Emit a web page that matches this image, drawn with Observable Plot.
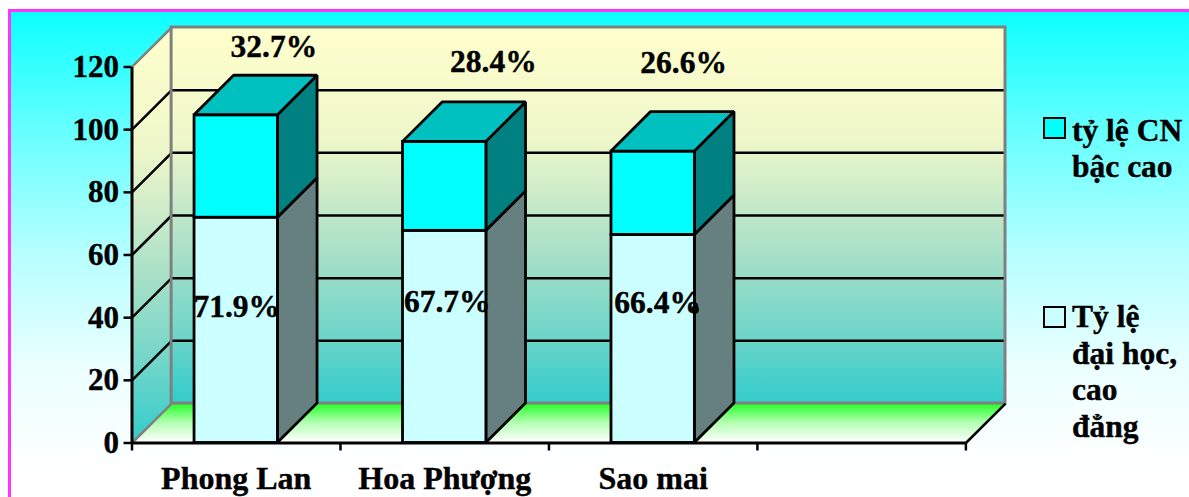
<!DOCTYPE html>
<html>
<head>
<meta charset="utf-8">
<script src="https://cdn.jsdelivr.net/npm/d3@7"></script>
<script src="https://cdn.jsdelivr.net/npm/@observablehq/plot@0.6"></script>
<style>
  html, body { margin: 0; padding: 0; width: 1189px; height: 497px; overflow: hidden; background: #fff; }
  #frame {
    position: absolute; left: 8px; top: 9px; width: 1181px; height: 488px;
    box-sizing: border-box; border-left: 3px solid #ff33ff; border-top: 3px solid #ff33ff;
    background: linear-gradient(180deg, #0cffff 0px, #66ffff 118px, #b4ffff 238px, #ecffff 358px, #ffffff 460px);
  }
  #chart { position: absolute; left: 0; top: 0; }
  #chart svg { display: block; }
  #chart text { stroke: #000; stroke-width: 0.4px; }
  .legend { position: absolute; font: bold 31.5px "Liberation Serif", serif; -webkit-text-stroke: 0.4px #000; color: #000; white-space: nowrap; }
  .swatch { position: absolute; width: 19px; height: 18px; border: 2.5px solid #000; }
</style>
</head>
<body>
<div id="frame"></div>
<div id="chart"></div>
<div class="swatch" style="left:1043px; top:117px; background:#00ffff"></div>
<div class="legend" style="left:1072px; top:113px; line-height:36px">tỷ lệ CN<br>bậc cao</div>
<div class="swatch" style="left:1043px; top:306px; background:#ccffff"></div>
<div class="legend" style="left:1072px; top:299px; line-height:36.5px">Tỷ lệ<br>đại học,<br>cao<br>đẳng</div>
<script>
// Share of staff by qualification at each hospital
const categories = ["Phong Lan", "Hoa Phượng", "Sao mai"];
const daiHoc = [71.9, 67.7, 66.4];
const cnBacCao = [32.7, 28.4, 26.6];
const yTicks = [0, 20, 40, 60, 80, 100, 120];
const slotTicks = [0, 1, 2, 3, 4];

// Oblique projection: how far the back of the box is shifted, in scale units
const depthX = 0.19;
const depthY = 12.6;
const slots = 4;
const yMax = 120;
const halfBar = 0.2;

const serif = '"Liberation Serif", serif';
const labelStyle = {fontFamily: serif, fontWeight: "bold", fontSize: 31.5, fill: "#000"};
const edge = {stroke: "#000", strokeWidth: 2.8, strokeLinejoin: "miter"};

const center = i => i + 0.5;
const bars = categories.map((name, i) => ({
  name,
  x1: center(i) - halfBar,
  x2: center(i) + halfBar,
  low: daiHoc[i],
  high: daiHoc[i] + cnBacCao[i]
}));

// A side face is a parallelogram running from a bar's right edge to its back edge
const sideFaces = (from, to) => bars.flatMap(b => [
  {id: b.name, x: b.x2, y1: from(b), y2: to(b)},
  {id: b.name, x: b.x2 + depthX, y1: from(b) + depthY, y2: to(b) + depthY}
]);
const topFaces = bars.flatMap(b => [
  {id: b.name, y: b.high, x1: b.x1, x2: b.x2},
  {id: b.name, y: b.high + depthY, x1: b.x1 + depthX, x2: b.x2 + depthX}
]);
const leftWall = [
  {x: 0, y1: 0, y2: yMax},
  {x: depthX, y1: depthY, y2: yMax + depthY}
];
const floor = [
  {y: 0, x1: 0, x2: slots},
  {y: depthY, x1: depthX, x2: slots + depthX}
];
const gridValues = yTicks.filter(v => v > 0 && v < yMax);

const gradients = () => d3.create("svg:defs").html(`
  <linearGradient id="wall" x1="0" y1="0" x2="0" y2="1">
    <stop offset="0" stop-color="#ffffcc"/><stop offset="0.3" stop-color="#eef7ca"/>
    <stop offset="0.6" stop-color="#a8e0c8"/><stop offset="0.8" stop-color="#74d6c9"/>
    <stop offset="1" stop-color="#33cccc"/>
  </linearGradient>
  <linearGradient id="floorFill" x1="0" y1="0" x2="0" y2="1">
    <stop offset="0" stop-color="#22ff22"/><stop offset="0.5" stop-color="#b4ffb4"/>
    <stop offset="1" stop-color="#ffffff"/>
  </linearGradient>`).node();

const chart = Plot.plot({
  width: 1189,
  height: 497,
  marginLeft: 131.5,
  marginRight: 184,
  marginTop: 27,
  marginBottom: 54.5,
  style: {background: "transparent", overflow: "visible"},
  x: {type: "linear", domain: [0, slots + depthX], axis: null},
  y: {type: "linear", domain: [0, yMax + depthY], axis: null},
  marks: [
    gradients,
    // box walls and floor
    Plot.rect([0], {x1: depthX, x2: slots + depthX, y1: depthY, y2: yMax + depthY, fill: "url(#wall)"}),
    Plot.areaY(leftWall, {x: "x", y1: "y1", y2: "y2", fill: "url(#wall)"}),
    Plot.areaX(floor, {y: "y", x1: "x1", x2: "x2", fill: "url(#floorFill)"}),
    // gridlines on both walls
    Plot.link(gridValues, {x1: 0, x2: depthX, y1: v => v, y2: v => v + depthY, stroke: "#000", strokeWidth: 2.5}),
    Plot.link(gridValues, {x1: depthX, x2: slots + depthX, y1: v => v + depthY, y2: v => v + depthY, stroke: "#000", strokeWidth: 2.5}),
    // grey wall outlines
    Plot.rect([0], {x1: depthX, x2: slots + depthX, y1: depthY, y2: yMax + depthY, stroke: "#808080", strokeWidth: 3}),
    Plot.link([yMax, 0], {x1: 0, x2: depthX, y1: v => v, y2: v => v + depthY, stroke: "#808080", strokeWidth: 2.5}),
    Plot.link([0], {x1: slots, x2: slots + depthX, y1: 0, y2: depthY, stroke: "#000", strokeWidth: 2.5}),
    // lower segment of each bar
    Plot.areaY(sideFaces(() => 0, b => b.low), {x: "x", y1: "y1", y2: "y2", z: "id", fill: "#668080", ...edge}),
    Plot.rect(bars, {x1: "x1", x2: "x2", y1: 0, y2: "low", fill: "#ccffff", ...edge}),
    // upper segment of each bar
    Plot.areaY(sideFaces(b => b.low, b => b.high), {x: "x", y1: "y1", y2: "y2", z: "id", fill: "#008080", ...edge}),
    Plot.rect(bars, {x1: "x1", x2: "x2", y1: "low", y2: "high", fill: "#00ffff", ...edge}),
    Plot.areaX(topFaces, {y: "y", x1: "x1", x2: "x2", z: "id", fill: "#00c0c0", ...edge}),
    // value labels, each nudged to its own spot above or on its bar
    ...[[37.7, -68], [48.7, -80], [30.5, -89]].map(([dx, dy], i) =>
      Plot.text([bars[i]], {x: d => center(i), y: "high", text: () => `${cnBacCao[i]}%`, dx, dy, ...labelStyle})),
    ...[[0.5, 89], [2.5, 71], [4.5, 68]].map(([dx, dy], i) =>
      Plot.text([bars[i]], {x: d => center(i), y: "low", text: () => `${daiHoc[i]}%`, dx, dy, ...labelStyle})),
    Plot.dot([bars[2]], {x: "x2", y: () => 42.5, r: 4, fill: "#000"}),
    // front axis lines, ticks and labels
    Plot.link([0], {x1: 0, x2: slots, y1: 0, y2: 0, stroke: "#000", strokeWidth: 3}),
    Plot.link([0], {x1: 0, x2: 0, y1: 0, y2: yMax, stroke: "#000", strokeWidth: 3}),
    Plot.axisY({
      ticks: yTicks, tickSize: 8, tickPadding: 5, label: null, stroke: "#000", strokeWidth: 2.5,
      fontSize: 31, fontFamily: serif, fontWeight: "bold", fill: "#000"
    }),
    Plot.axisX({ticks: slotTicks, tickSize: 8, tickFormat: () => "", label: null, stroke: "#000", strokeWidth: 2.5}),
    Plot.axisX({
      ticks: categories.map((_, i) => center(i)), tickSize: 0, tickPadding: 23,
      tickFormat: v => categories[v - 0.5], label: null,
      fontSize: 32, fontFamily: serif, fontWeight: "bold", fill: "#000"
    })
  ]
});
document.getElementById("chart").append(chart);
</script>
</body>
</html>
